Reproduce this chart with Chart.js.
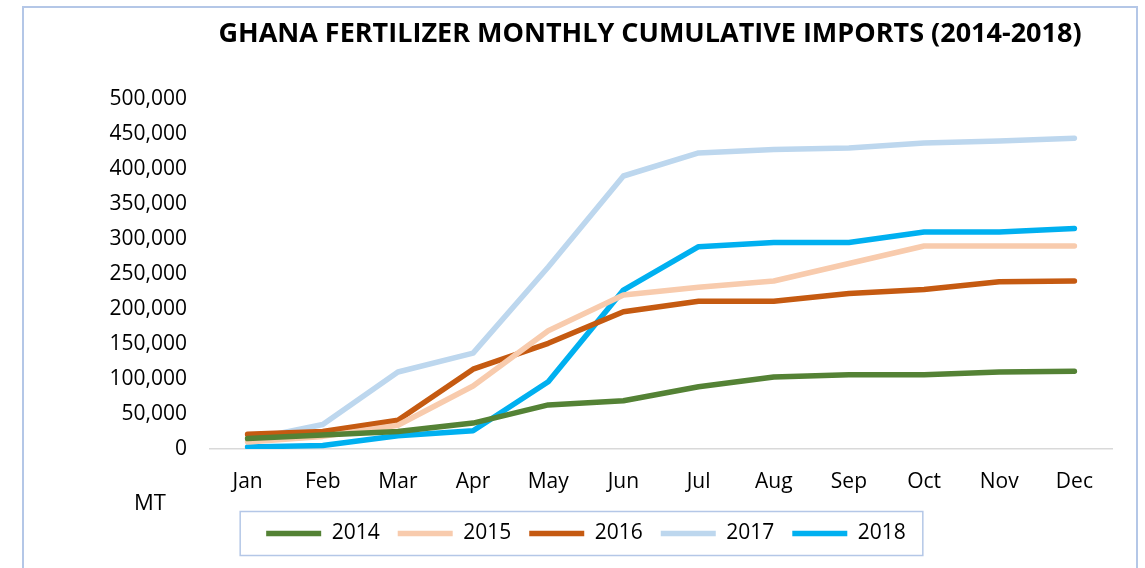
<!DOCTYPE html>
<html>
<head>
<meta charset="utf-8">
<script src="https://cdn.jsdelivr.net/npm/chart.js@4.4.0/dist/chart.umd.min.js"></script>
<style>
    html, body { margin: 0; padding: 0; background: #fff; }
    #wrap { position: relative; width: 1145px; height: 568px; overflow: hidden; }
    #frame {
        position: absolute; left: 22px; top: 6px; width: 1116px; height: 600px;
        border: 2px solid #b4c7e7; box-sizing: border-box;
    }
    #priceChart { position: absolute; left: 0; top: 0; }
</style>
</head>
<body>
<div id="wrap">
    <div id="frame"></div>
    <canvas id="priceChart" width="1145" height="568"></canvas>
</div>
<script>
// 월별 누적 수입량 (MT)
const months = ['Jan', 'Feb', 'Mar', 'Apr', 'May', 'Jun', 'Jul', 'Aug', 'Sep', 'Oct', 'Nov', 'Dec'];
const years = ['2014', '2015', '2016', '2017', '2018'];
const imports2014 = [15000, 20000, 25000, 37000, 63000, 69000, 89000, 103000, 106000, 106000, 110000, 111000];
const imports2015 = [10000, 18000, 34000, 90000, 169000, 220000, 231000, 240000, 265000, 290000, 290000, 290000];
const imports2016 = [21000, 25000, 41000, 114000, 151000, 196000, 211000, 211000, 222000, 228000, 239000, 240000];
const imports2017 = [13000, 35000, 110000, 137000, 260000, 390000, 423000, 428000, 430000, 437000, 440000, 444000];
const imports2018 = [3000, 5000, 19000, 26000, 96000, 227000, 289000, 295000, 295000, 310000, 310000, 315000];
const yTicks = [0, 50000, 100000, 150000, 200000, 250000, 300000, 350000, 400000, 450000, 500000];

const colors = ['#548235', '#f8cbad', '#c55a11', '#bdd7ee', '#00b0f0'];
const seriesValues = [imports2014, imports2015, imports2016, imports2017, imports2018];
const FONT = "'Open Sans', sans-serif";

// 제목, MT 라벨, 범례 테두리
const decorPlugin = {
    id: 'decor',
    afterDraw(chart) {
        const c = chart.ctx;
        c.save();
        c.fillStyle = '#000';
        c.font = "bold 27px " + FONT;
        c.textAlign = 'center';
        c.textBaseline = 'middle';
        c.fillText('GHANA FERTILIZER MONTHLY CUMULATIVE IMPORTS (2014-2018)', 650, 34);
        c.font = "22px " + FONT;
        c.fillText('MT', 150, 504);

        const boxes = chart.legend.legendHitBoxes;
        if (boxes && boxes.length) {
            const first = boxes[0];
            const last = boxes[boxes.length - 1];
            const cy = first.top + first.height / 2;
            c.strokeStyle = '#b4c7e7';
            c.lineWidth = 1.5;
            c.strokeRect(first.left - 26, cy - 22, last.left + last.width - first.left + 43, 44);
        }
        c.restore();
    }
};

const ctx = document.getElementById('priceChart');
new Chart(ctx, {
    type: 'line',
    data: {
        labels: months,
        datasets: years.map((y, i) => ({
            label: y,
            data: seriesValues[i],
            borderColor: colors[i],
            backgroundColor: colors[i],
            borderWidth: 5.5,
            borderCapStyle: 'round',
            borderJoinStyle: 'round',
            pointRadius: 0,
            pointHoverRadius: 0,
            tension: 0,
            fill: false
        }))
    },
    options: {
        responsive: false,
        animation: false,
        events: [],
        layout: { padding: { top: 99, right: 33, bottom: 14, left: 60 } },
        plugins: {
            title: { display: false },
            tooltip: { enabled: false },
            legend: {
                position: 'bottom',
                labels: {
                    usePointStyle: true,
                    pointStyle: 'line',
                    pointStyleWidth: 55,
                    padding: 18,
                    color: '#000',
                    font: { family: FONT, size: 21 }
                }
            }
        },
        scales: {
            y: {
                min: 0,
                max: 500000,
                afterFit(scale) { scale.width = 150; },
                afterBuildTicks(scale) { scale.ticks = yTicks.map(v => ({ value: v })); },
                ticks: {
                    padding: 23,
                    color: '#000',
                    font: { family: FONT, size: 21 },
                    callback: v => v.toLocaleString('en-US')
                },
                grid: { display: false, drawTicks: false },
                border: { display: false }
            },
            x: {
                offset: true,
                afterFit(scale) { scale.height = 56; },
                ticks: {
                    padding: 20,
                    maxRotation: 0,
                    color: '#000',
                    font: { family: FONT, size: 21 }
                },
                grid: { display: false, drawTicks: false },
                border: { display: true, color: '#d9d9d9', width: 1.5 }
            }
        }
    },
    plugins: [decorPlugin]
});
</script>
</body>
</html>
